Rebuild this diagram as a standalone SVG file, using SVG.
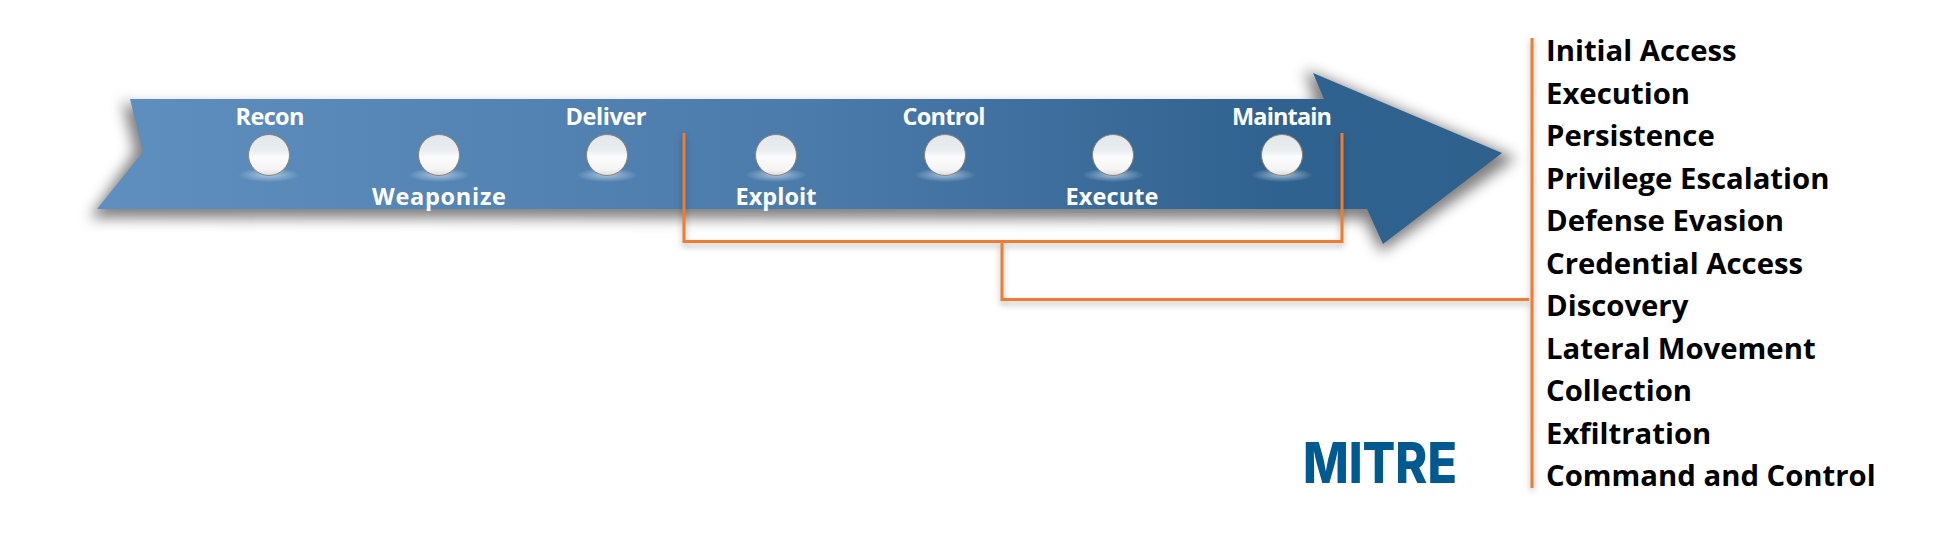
<svg xmlns="http://www.w3.org/2000/svg" xmlns:xlink="http://www.w3.org/1999/xlink" width="1954" height="535" viewBox="0 0 1954 535">
<style>
.lbl{font-family:"Open Sans","Noto Sans","Liberation Sans",sans-serif;font-weight:700;font-size:23.500px;fill:#fff;text-anchor:middle}
.tac{font-family:"Open Sans","Noto Sans","Liberation Sans",sans-serif;font-weight:700;font-size:29.300px;fill:#000}
.ln{fill:none;stroke:#ed7d31;stroke-width:3}
.sh{fill:none;stroke:#000;stroke-opacity:.3;stroke-width:3;filter:url(#b3)}
</style>
<defs>
<linearGradient id="ag" x1="0" y1="0" x2="1" y2="0"><stop offset="0" stop-color="#5f8fbf"/><stop offset=".5" stop-color="#4b7bab"/><stop offset=".84" stop-color="#30628f"/><stop offset="1" stop-color="#2f618d"/></linearGradient>
<linearGradient id="sg" x1="0" y1="0" x2="0" y2="1"><stop offset="0" stop-color="#e2e7eb"/><stop offset=".38" stop-color="#e9edf0"/><stop offset=".55" stop-color="#fcfcfc"/><stop offset=".85" stop-color="#f4f4f4"/><stop offset="1" stop-color="#dcdcdc"/></linearGradient>
<radialGradient id="hg"><stop offset="0" stop-color="#c9dbea" stop-opacity=".75"/><stop offset="1" stop-color="#c9dbea" stop-opacity="0"/></radialGradient>
<filter id="b6" x="-5%" y="-30%" width="110%" height="160%"><feGaussianBlur stdDeviation="7"/></filter>
<filter id="b3" x="-20%" y="-20%" width="140%" height="140%"><feGaussianBlur stdDeviation="3"/></filter>
<g id="ball"><ellipse cx="0" cy="20" rx="31" ry="7" fill="url(#hg)"/><circle r="20.500" fill="url(#sg)" stroke="#8b8379" stroke-width="1"/></g>
</defs>
<rect width="1954" height="535" fill="#fff"/>
<g id="arrow">
<polygon points="122,100 135,152 90,218 1364,219 1381,252 1516,158 1305,70 1316,106 130,106" fill="#000" fill-opacity=".5" filter="url(#b6)"/>
<polygon points="130,99 1324,99 1313,73 1502,153 1383,244 1367,209 97,209 143,152" fill="url(#ag)"/>
</g>
<g id="connectors">
<path class="sh" d="M684,135V245H1342V135M1002,245V303H1529M1532,40V491"/>
<path class="ln" d="M684,133V241.500H1342V133"/>
<path class="ln" d="M1002,241.500V299.500H1529"/>
<path class="ln" d="M1532,38V488"/>
</g>
<g id="recon"><use href="#ball" x="269" y="155"/><text class="lbl" x="270" y="125" textLength="69">Recon</text></g>
<g id="weaponize"><use href="#ball" x="439" y="155"/><text class="lbl" x="439" y="205" textLength="134">Weaponize</text></g>
<g id="deliver"><use href="#ball" x="607" y="155"/><text class="lbl" x="606" y="125" textLength="81">Deliver</text></g>
<g id="exploit"><use href="#ball" x="776" y="155"/><text class="lbl" x="776" y="205" textLength="81">Exploit</text></g>
<g id="control"><use href="#ball" x="945" y="155"/><text class="lbl" x="944" y="125" textLength="83">Control</text></g>
<g id="execute"><use href="#ball" x="1113" y="155"/><text class="lbl" x="1112" y="205" textLength="93">Execute</text></g>
<g id="maintain"><use href="#ball" x="1282" y="155"/><text class="lbl" x="1282" y="125" textLength="100">Maintain</text></g>
<g id="tactics">
<text class="tac" x="1546" y="61">Initial Access</text>
<text class="tac" x="1546" y="104">Execution</text>
<text class="tac" x="1546" y="146">Persistence</text>
<text class="tac" x="1546" y="189">Privilege Escalation</text>
<text class="tac" x="1546" y="231">Defense Evasion</text>
<text class="tac" x="1546" y="274">Credential Access</text>
<text class="tac" x="1546" y="316">Discovery</text>
<text class="tac" x="1546" y="359">Lateral Movement</text>
<text class="tac" x="1546" y="401">Collection</text>
<text class="tac" x="1546" y="444">Exfiltration</text>
<text class="tac" x="1546" y="486">Command and Control</text>
</g>
<g id="logo"><text x="1303" y="483" font-family="Inter,'Liberation Sans',sans-serif" font-weight="800" font-size="56.500" fill="#00598f" textLength="154" lengthAdjust="spacingAndGlyphs">MITRE</text></g>
</svg>
